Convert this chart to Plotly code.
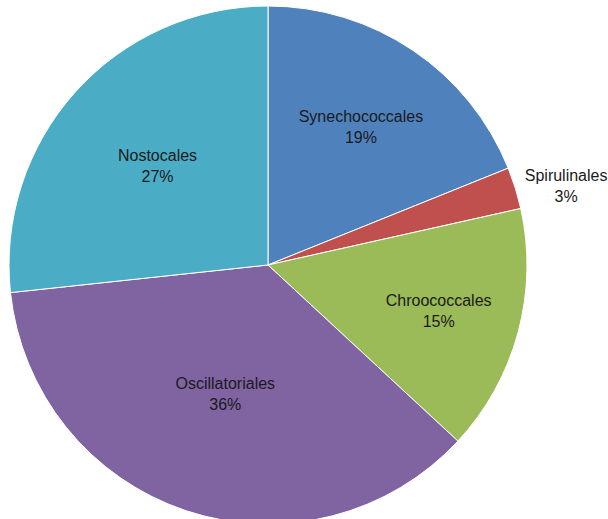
import plotly.graph_objects as go

labels = ["Synechococcales", "Spirulinales", "Chroococcales", "Oscillatoriales", "Nostocales"]
values = [18.9, 2.6, 15.4, 36.4, 26.7]
colors = ["#4F81BD", "#C0504D", "#9BBB59", "#8064A2", "#4BACC6"]
positions = ["inside", "outside", "inside", "inside", "inside"]

W, H = 612, 532
fig = go.Figure(go.Pie(
    labels=labels,
    values=values,
    sort=False,
    direction="clockwise",
    rotation=0,
    marker=dict(colors=colors, line=dict(color="white", width=1)),
    texttemplate="%{label}<br>%{percent:.0%}",
    textposition=positions,
    insidetextorientation="horizontal",
    textfont=dict(family="Liberation Sans, Arial, sans-serif", size=16, color="#1a1a1a"),
    showlegend=False,
    hoverinfo="none",
    domain=dict(x=[9 / W, 527 / W], y=[8 / H, 526 / H]),
))
fig.update_layout(
    width=W, height=H,
    margin=dict(l=0, r=0, t=0, b=0),
    paper_bgcolor="white",
    plot_bgcolor="white",
)
fig.write_html(
    "out.html",
    config={"displayModeBar": False},
    post_script="document.body.style.margin='0';document.body.style.overflow='hidden';document.documentElement.style.overflow='hidden';",
)
